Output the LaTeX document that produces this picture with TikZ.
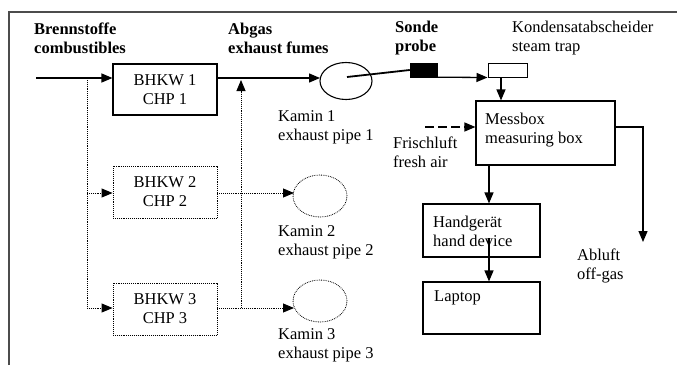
\documentclass[tikz,border=0pt]{standalone}
\usepackage{fontspec}
\setmainfont{Liberation Serif}
\usetikzlibrary{arrows.meta,shapes.geometric}
\begin{document}
\begin{tikzpicture}[x=1pt,y=-1pt,
  txt/.style={anchor=west,align=left,inner sep=0pt,font=\fontsize{16.5}{19}\selectfont},
  btxt/.style={txt,font=\fontsize{16.5}{19}\selectfont\bfseries},
  solidbox/.style={draw,line width=1.1pt,inner sep=0pt,align=center,font=\fontsize{16.5}{19}\selectfont},
  dotbox/.style={draw,densely dotted,line width=0.9pt,inner sep=0pt,align=center,font=\fontsize{16.5}{19}\selectfont},
  flow/.style={line width=1.3pt,-{Triangle[length=11pt,width=9pt]}},
  dflow/.style={densely dotted,line width=0.9pt,-{Triangle[length=11pt,width=9pt]}},
  dline/.style={densely dotted,line width=0.9pt}]
\useasboundingbox (0,0) rectangle (677,367);
% frame
\draw[line width=1.6pt,black!70] (9,365) -- (9,12) -- (677,12);
% labels
\node[btxt] (lbr) at (34,38) {Brennstoffe\\combustibles};
\node[btxt] (lab) at (228,38) {Abgas\\exhaust fumes};
\node[btxt] (lso) at (395,38) {Sonde\\probe};
\node[txt] (lko) at (512,38) {Kondensatabscheider\\steam trap};
% CHP boxes
\node[solidbox,minimum width=104pt,minimum height=51pt] (b1) at (165,89.5) {BHKW 1\\CHP 1};
\node[dotbox,minimum width=104pt,minimum height=52pt] (b2) at (165,192) {BHKW 2\\CHP 2};
\node[dotbox,minimum width=104pt,minimum height=52pt] (b3) at (165,309) {BHKW 3\\CHP 3};
% chimneys
\node[draw,ellipse,line width=1.1pt,minimum width=52pt,minimum height=37pt,inner sep=0pt] (k1) at (346,81) {};
\node[draw,ellipse,densely dotted,line width=0.8pt,minimum width=54pt,minimum height=42pt,inner sep=0pt] (k2) at (320,196) {};
\node[draw,ellipse,densely dotted,line width=0.8pt,minimum width=54pt,minimum height=42pt,inner sep=0pt] (k3) at (320,301) {};
\node[txt] (lk1) at (278,127) {Kamin 1\\exhaust pipe 1};
\node[txt] (lk2) at (278,242) {Kamin 2\\exhaust pipe 2};
\node[txt] (lk3) at (278,345) {Kamin 3\\exhaust pipe 3};
% probe and trap
\node[draw,fill=black,minimum width=27pt,minimum height=14pt,inner sep=0pt] (pr) at (423.5,70) {};
\node[draw,line width=1pt,minimum width=39pt,minimum height=14pt,inner sep=0pt] (tr) at (507.5,70) {};
% measuring chain
\node[solidbox,minimum width=139pt,minimum height=64pt] (mb) at (545.5,133) {};
\node[txt] (lmb) at (485,130) {Messbox\\measuring box};
\node[txt] (lfr) at (393,152) {Frischluft\\fresh air};
\node[solidbox,minimum width=117pt,minimum height=53pt] (hd) at (481.5,230.5) {};
\node[txt] (lhd) at (433,231) {Handger\"at\\hand device};
\node[solidbox,minimum width=117pt,minimum height=52pt] (lp) at (481.5,308) {};
\node[txt] (llp) at (434,298) {Laptop};
\node[txt] (lal) at (577,266) {Abluft\\off-gas};
% coordinates
\coordinate (f0) at (36,78);
\coordinate (fx) at (87,78);
\coordinate (pin) at (347,77);
\coordinate (fa) at (425,127);
\coordinate (ex) at (643,127);
\coordinate (eo) at (643,242);
\coordinate (hin) at (489,238);
% fuel feed
\draw[flow] (f0) -- (f0 -| b1.west);
\draw[dline] (fx) -- (87,308);
\draw[dflow] (87,193) -- (b2.west |- 0,193);
\draw[dflow] (87,308) -- (b3.west |- 0,308);
% exhaust
\draw[flow] (b1.east |- f0) -- (320,78);
\draw[dflow] (b2.east |- 0,193) -- (294,193);
\draw[dflow] (b3.east |- 0,308) -- (294,308);
\draw[dflow] (241,308) -- (241,80);
% probe
\draw[line width=1.8pt] (pin) -- (pr.west);
\draw[flow] (pr.south east) -- (tr.south west);
\draw[flow] (tr.south -| 501,0) -- (mb.north -| 501,0);
\draw[flow,dash pattern=on 9pt off 4pt] (fa) -- (fa -| mb.west);
\draw[flow] (mb.east |- ex) -- (ex) -- (eo);
\draw[flow] (mb.south -| 489,0) -- (hd.north -| 489,0);
\draw[flow] (hin) -- (lp.north -| hin);
\end{tikzpicture}
\end{document}
